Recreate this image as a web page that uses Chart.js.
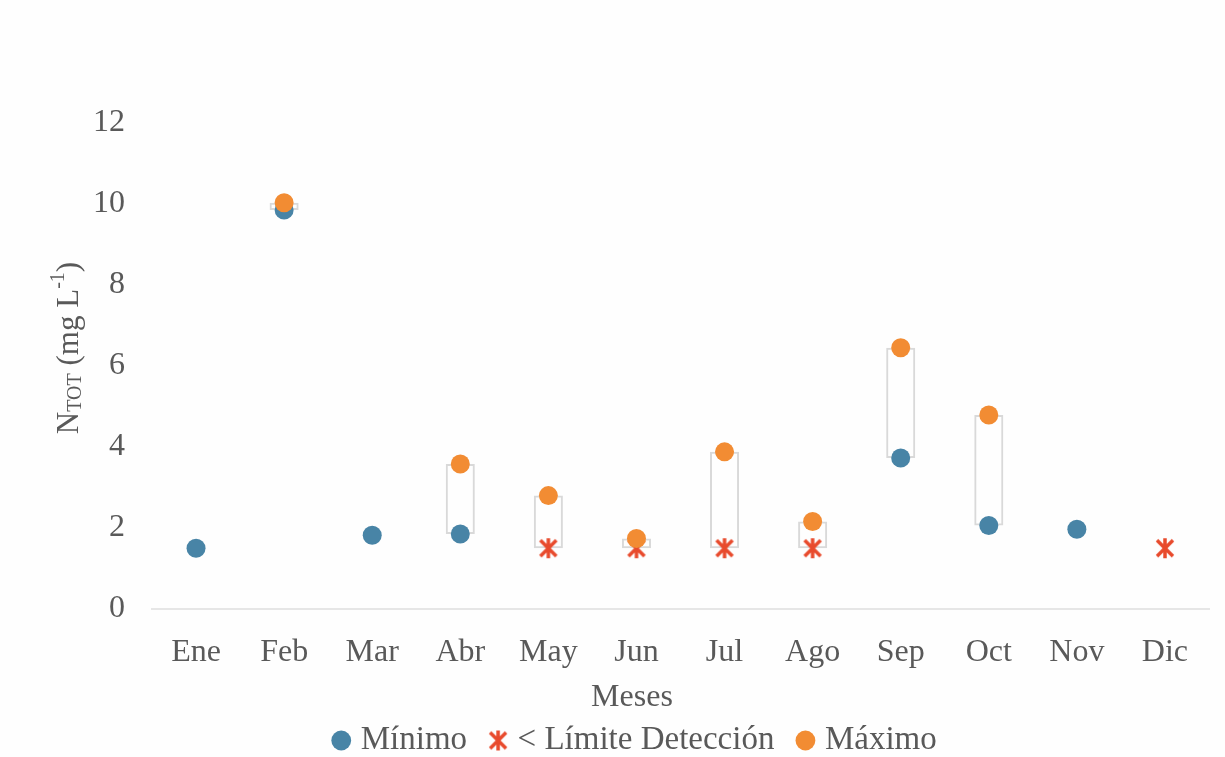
<!DOCTYPE html>
<html>
<head>
<meta charset="utf-8">
<script src="https://cdn.jsdelivr.net/npm/chart.js@4.4.1/dist/chart.umd.min.js"></script>
<style>
  html, body { margin: 0; padding: 0; background: #fefefe; }
  #wrap { width: 1225px; height: 757px; }
</style>
</head>
<body>
<div id="wrap"><canvas id="chart"></canvas></div>
<script>
// Data
const meses = ["Ene", "Feb", "Mar", "Abr", "May", "Jun", "Jul", "Ago", "Sep", "Oct", "Nov", "Dic"];
const minimo = [1.5, 9.85, 1.82, 1.85, null, null, null, null, 3.73, 2.06, 1.97, null];
const limiteDeteccion = [null, null, null, null, 1.5, 1.5, 1.5, 1.5, null, null, null, 1.5];
const maximo = [null, 10.03, null, 3.58, 2.8, 1.74, 3.88, 2.16, 6.45, 4.79, null, null];
const yTicks = [0, 2, 4, 6, 8, 10, 12];

const textColor = "#595959";
const fontFamily = "'Liberation Serif', 'Times New Roman', serif";
const fontSize = 32;

// range between lowest and highest value of each month (only where both exist)
const rango = meses.map((m, i) => {
  const low = minimo[i] != null ? minimo[i] : limiteDeteccion[i];
  if (low == null || maximo[i] == null) return null;
  return [low, maximo[i]];
});

// asterisk marker (X with vertical bar)
function makeAsterisk(size, color) {
  const c = document.createElement("canvas");
  c.width = size;
  c.height = size;
  const g = c.getContext("2d");
  g.strokeStyle = color;
  g.lineWidth = 3.5;
  const p = 3;
  g.beginPath();
  g.moveTo(p, p); g.lineTo(size - p, size - p);
  g.moveTo(size - p, p); g.lineTo(p, size - p);
  g.moveTo(size / 2, 1); g.lineTo(size / 2, size - 1);
  g.stroke();
  return c;
}
const asterisk = makeAsterisk(22, "#e84a2c");

// axis titles: y title needs subscript / superscript, x title sits left of centre
const axisTitles = {
  id: "axisTitles",
  afterDraw(chart) {
    const ctx = chart.ctx;
    ctx.save();
    ctx.fillStyle = textColor;
    ctx.textBaseline = "middle";

    ctx.font = fontSize + "px " + fontFamily;
    ctx.textAlign = "center";
    ctx.fillText("Meses", 632, 698);

    const parts = [
      { t: "N", size: 31, dy: 0 },
      { t: "TOT", size: 20, dy: 6 },
      { t: " (mg L", size: 31, dy: 0 },
      { t: "-1", size: 20, dy: -11 },
      { t: ")", size: 31, dy: 0 },
    ];
    let total = 0;
    parts.forEach((p) => {
      ctx.font = p.size + "px " + fontFamily;
      p.w = ctx.measureText(p.t).width;
      total += p.w;
    });
    ctx.textAlign = "left";
    ctx.translate(70, 348);
    ctx.rotate(-Math.PI / 2);
    let x = -total / 2;
    parts.forEach((p) => {
      ctx.font = p.size + "px " + fontFamily;
      ctx.fillText(p.t, x, p.dy);
      x += p.w;
    });
    ctx.restore();
  },
};

// nudge the legend to the right, like the original
const legendShift = {
  id: "legendShift",
  afterLayout(chart) {
    chart.legend.left += 33;
    chart.legend.right += 33;
  },
};

const ctx = document.getElementById("chart").getContext("2d");
new Chart(ctx, {
  type: "bar",
  data: {
    labels: meses,
    datasets: [
      {
        type: "line",
        label: "Mínimo",
        data: minimo,
        showLine: false,
        pointStyle: "circle",
        pointRadius: 9.5,
        pointHoverRadius: 9.5,
        backgroundColor: "#4884a6",
        borderColor: "#4884a6",
        borderWidth: 0,
        order: 3,
      },
      {
        type: "line",
        label: "< Límite Detección",
        data: limiteDeteccion,
        showLine: false,
        pointStyle: asterisk,
        backgroundColor: "#e84a2c",
        borderColor: "#e84a2c",
        order: 2,
      },
      {
        type: "line",
        label: "Máximo",
        data: maximo,
        showLine: false,
        pointStyle: "circle",
        pointRadius: 9.5,
        pointHoverRadius: 9.5,
        backgroundColor: "#f28c33",
        borderColor: "#f28c33",
        borderWidth: 0,
        order: 1,
      },
      {
        label: "rango",
        data: rango,
        backgroundColor: "rgba(0,0,0,0)",
        borderColor: "#d9d9d9",
        borderWidth: 2,
        borderSkipped: false,
        barPercentage: 0.33,
        categoryPercentage: 1,
        order: 4,
      },
    ],
  },
  options: {
    responsive: true,
    maintainAspectRatio: false,
    animation: false,
    layout: { padding: { top: 123, right: 16, bottom: -10, left: 0 } },
    plugins: {
      tooltip: { enabled: false },
      legend: {
        position: "bottom",
        labels: {
          usePointStyle: true,
          boxWidth: 6,
          boxHeight: 14,
          padding: 28,
          color: textColor,
          font: { family: fontFamily, size: 33 },
          filter: (item) => item.text !== "rango",
          sort: (a, b) => a.datasetIndex - b.datasetIndex,
        },
      },
    },
    scales: {
      x: {
        afterFit: (scale) => {
          scale.height = 87;
        },
        grid: { display: false, drawTicks: false },
        border: { display: true, color: "#e6e6e6", width: 2 },
        ticks: { color: textColor, font: { family: fontFamily, size: fontSize }, padding: 24 },
      },
      y: {
        min: 0,
        max: 12,
        afterBuildTicks: (scale) => {
          scale.ticks = yTicks.map((v) => ({ value: v }));
        },
        afterFit: (scale) => {
          scale.width = 152;
        },
        grid: { display: false, drawTicks: false },
        border: { display: false },
        ticks: { color: textColor, font: { family: fontFamily, size: fontSize }, padding: 27 },
      },
    },
  },
  plugins: [axisTitles, legendShift],
});
</script>
</body>
</html>
